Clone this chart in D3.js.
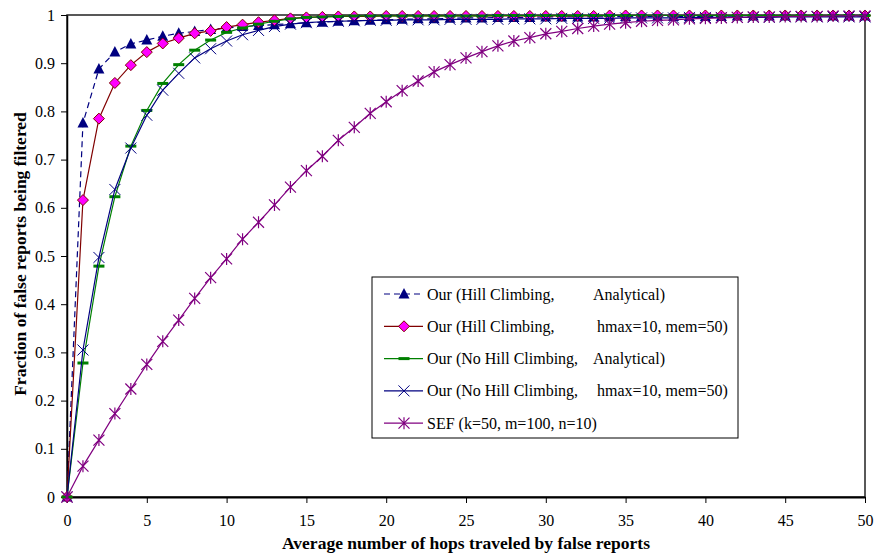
<!DOCTYPE html>
<html>
<head>
<meta charset="utf-8">
<script src="https://cdnjs.cloudflare.com/ajax/libs/d3/7.8.5/d3.min.js"></script>
<style>
  body { margin: 0; background: #fff; }
  svg { display: block; font-family: "Liberation Serif", "Times New Roman", serif; }
  .tick text { font-size: 16px; fill: #000; font-family: "Liberation Serif", "Times New Roman", serif; }
  .axis path, .axis line { stroke: #000; }
</style>
</head>
<body>
<svg width="875" height="554"></svg>
<script>
// hops 0..50
var hops = d3.range(0, 51);

var hcAnalytical = [0, 0.776, 0.888, 0.923, 0.940, 0.948, 0.956, 0.962, 0.966, 0.970,
  0.973, 0.976, 0.978, 0.980, 0.982, 0.984, 0.985, 0.987, 0.988, 0.989,
  0.990, 0.991, 0.992, 0.992, 0.993, 0.994, 0.994, 0.995, 0.995, 0.995,
  0.996, 0.996, 0.996, 0.996, 0.996, 0.997, 0.997, 0.997, 0.997, 0.997,
  0.997, 0.997, 0.998, 0.998, 0.998, 0.998, 0.998, 0.998, 0.998, 0.998, 0.998];

var hcSim = [0, 0.616, 0.785, 0.859, 0.896, 0.923, 0.941, 0.952, 0.962, 0.967,
  0.975, 0.980, 0.985, 0.989, 0.993, 0.995, 0.996, 0.997, 0.997, 0.997,
  0.998, 0.998, 0.998, 0.998, 0.998, 0.998, 0.998, 0.998, 0.998, 0.998,
  0.998, 0.998, 0.998, 0.998, 0.999, 0.999, 0.999, 0.999, 0.999, 0.999,
  0.999, 0.999, 0.999, 0.999, 0.999, 0.999, 0.999, 0.999, 0.999, 0.999, 0.999];

var nhcAnalytical = [0, 0.278, 0.479, 0.623, 0.728, 0.802, 0.858, 0.897, 0.927, 0.948,
  0.964, 0.973, 0.981, 0.987, 0.992, 0.995, 0.996, 0.997, 0.998, 0.998,
  0.998, 0.998, 0.998, 0.998, 0.998, 0.998, 0.998, 0.999, 0.999, 0.999,
  0.999, 0.999, 0.999, 0.999, 0.999, 0.999, 0.999, 0.999, 0.999, 0.999,
  0.999, 0.999, 0.999, 0.999, 0.999, 0.999, 0.999, 0.999, 0.999, 0.999, 0.999];

var nhcSim = [0, 0.305, 0.497, 0.638, 0.724, 0.792, 0.844, 0.879, 0.911, 0.930,
  0.946, 0.959, 0.968, 0.976, 0.981, 0.984, 0.986, 0.987, 0.988, 0.989,
  0.989, 0.990, 0.990, 0.990, 0.991, 0.991, 0.991, 0.991, 0.992, 0.992,
  0.992, 0.993, 0.993, 0.993, 0.993, 0.994, 0.994, 0.994, 0.994, 0.995,
  0.995, 0.995, 0.995, 0.995, 0.995, 0.996, 0.996, 0.996, 0.996, 0.996, 0.996];

var sef = [0, 0.064, 0.118, 0.173, 0.224, 0.275, 0.323, 0.367, 0.412, 0.455,
  0.494, 0.535, 0.570, 0.606, 0.643, 0.677, 0.707, 0.740, 0.767, 0.796,
  0.820, 0.843, 0.863, 0.882, 0.897, 0.911, 0.924, 0.936, 0.946, 0.953,
  0.961, 0.966, 0.972, 0.977, 0.981, 0.984, 0.987, 0.989, 0.990, 0.992,
  0.993, 0.994, 0.995, 0.996, 0.996, 0.997, 0.997, 0.997, 0.998, 0.998, 0.998];

var xTicks = d3.range(0, 51, 5);
var yTicks = [0, 0.1, 0.2, 0.3, 0.4, 0.5, 0.6, 0.7, 0.8, 0.9, 1];

var legendLeft = ["Our (Hill Climbing,", "Our (Hill Climbing,", "Our (No Hill Climbing,", "Our (No Hill Climbing,", "SEF (k=50, m=100, n=10)"];
var legendRight = ["Analytical)", "hmax=10, mem=50)", "Analytical)", "hmax=10, mem=50)", ""];

var svg = d3.select("svg");
var plotL = 67, plotT = 15, plotR = 865, plotB = 497;

var x = d3.scaleLinear().domain([0, 50]).range([plotL, plotR]);
var y = d3.scaleLinear().domain([0, 1]).range([plotB, plotT]);

// plot border
svg.append("rect")
  .attr("x", plotL).attr("y", plotT)
  .attr("width", plotR - plotL).attr("height", plotB - plotT)
  .attr("fill", "none").attr("stroke", "#222").attr("stroke-width", 1.5);

svg.append("g").attr("class", "axis")
  .attr("transform", "translate(0," + plotB + ")")
  .call(d3.axisBottom(x).tickValues(xTicks).tickSize(6).tickSizeOuter(0).tickPadding(12))
  .call(function(g){ g.select(".domain").attr("stroke-width", 2); });

svg.append("g").attr("class", "axis")
  .attr("transform", "translate(" + plotL + ",0)")
  .call(d3.axisLeft(y).tickValues(yTicks).tickSize(6).tickSizeOuter(0).tickPadding(6)
    .tickFormat(function(d){ return d === 0 || d === 1 ? d : d.toFixed(1); }))
  .call(function(g){ g.select(".domain").attr("stroke-width", 1.5); });

// axis titles
svg.append("text")
  .attr("x", 466).attr("y", 549)
  .attr("text-anchor", "middle")
  .attr("font-size", 17.5).attr("font-weight", "bold")
  .text("Average number of hops traveled by false reports");

svg.append("text")
  .attr("transform", "translate(26," + 254 + ") rotate(-90)")
  .attr("text-anchor", "middle")
  .attr("font-size", 17.5).attr("font-weight", "bold")
  .text("Fraction of false reports being filtered");

var series = [
  { values: hcAnalytical, line: "#000080", dash: "6,4", marker: "triangle" },
  { values: hcSim, line: "#800000", dash: null, marker: "diamond" },
  { values: nhcAnalytical, line: "#008000", dash: null, marker: "bar" },
  { values: nhcSim, line: "#000080", dash: null, marker: "cross" },
  { values: sef, line: "#800080", dash: null, marker: "star" }
];

function drawMarker(g, type) {
  if (type === "triangle") {
    g.append("path").attr("d", "M0,-6L5.5,4.5L-5.5,4.5Z").attr("fill", "#000080");
  } else if (type === "diamond") {
    g.append("path").attr("d", "M0,-5.5L5.5,0L0,5.5L-5.5,0Z")
      .attr("fill", "#ff00ff").attr("stroke", "#800000").attr("stroke-width", 1);
  } else if (type === "bar") {
    g.append("rect").attr("x", -5.5).attr("y", -1.5).attr("width", 11).attr("height", 3).attr("fill", "#008000");
  } else if (type === "cross") {
    g.append("path").attr("d", "M-5.5,-5.5L5.5,5.5M5.5,-5.5L-5.5,5.5")
      .attr("stroke", "#000080").attr("stroke-width", 1).attr("fill", "none");
  } else if (type === "star") {
    g.append("path").attr("d", "M-5.5,-5.5L5.5,5.5M5.5,-5.5L-5.5,5.5M0,-6L0,6")
      .attr("stroke", "#800080").attr("stroke-width", 1.2).attr("fill", "none");
  }
}

var line = d3.line().x(function(d, i){ return x(hops[i]); }).y(function(d){ return y(d); });

series.forEach(function(s) {
  svg.append("path")
    .attr("d", line(s.values))
    .attr("fill", "none")
    .attr("stroke", s.line)
    .attr("stroke-width", 1.2)
    .attr("stroke-dasharray", s.dash);
  svg.append("g").selectAll("g")
    .data(s.values).enter().append("g")
    .attr("transform", function(d, i){ return "translate(" + x(hops[i]) + "," + y(d) + ")"; })
    .each(function(){ drawMarker(d3.select(this), s.marker); });
});

// legend
var legend = svg.append("g");
legend.append("rect")
  .attr("x", 372).attr("y", 277).attr("width", 366).attr("height", 161)
  .attr("fill", "#fff").attr("stroke", "#000").attr("stroke-width", 1);

series.forEach(function(s, i) {
  var ry = 294 + i * 32.3;
  legend.append("line")
    .attr("x1", 384).attr("x2", 423).attr("y1", ry).attr("y2", ry)
    .attr("stroke", s.line).attr("stroke-width", 1.2)
    .attr("stroke-dasharray", s.dash);
  drawMarker(legend.append("g").attr("transform", "translate(404," + ry + ")"), s.marker);
  legend.append("text")
    .attr("x", 427).attr("y", ry + 5.5)
    .attr("font-size", 16)
    .text(legendLeft[i]);
  if (legendRight[i]) {
    legend.append("text")
      .attr("x", legendRight[i] === "Analytical)" ? 593 : 597).attr("y", ry + 5.5)
      .attr("font-size", 16)
      .text(legendRight[i]);
  }
});
</script>
</body>
</html>
